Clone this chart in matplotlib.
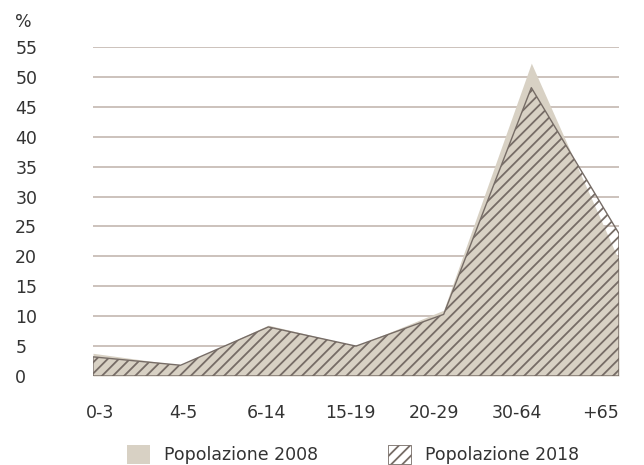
import matplotlib
matplotlib.use("Agg")
import matplotlib.pyplot as plt
from matplotlib.patches import Patch

categories = ["0-3", "4-5", "6-14", "15-19", "20-29", "30-64", "+65"]
pop_2008 = [3.8, 1.8, 8.5, 5.0, 11.0, 52.3, 19.3]
pop_2018 = [3.2, 1.8, 8.2, 5.0, 10.3, 48.2, 23.8]
y_ticks = [0, 5, 10, 15, 20, 25, 30, 35, 40, 45, 50, 55]

beige = "#d8d1c4"
hatch_col = "#766c66"
grid_col = "#c3b8b0"
text_col = "#333333"

plt.rcParams["font.family"] = ["DejaVu Sans"]
plt.rcParams["hatch.color"] = hatch_col
plt.rcParams["hatch.linewidth"] = 1.3

fig = plt.figure(figsize=(6.44, 4.65), dpi=100)
ax = fig.add_axes([93 / 644, 1 - 376 / 465, (619 - 93) / 644, (376 - 47) / 465])

x = list(range(len(categories)))
ax.fill_between(x, 0, pop_2008, color=beige, linewidth=0, zorder=2)
ax.fill_between(x, 0, pop_2018, facecolor="none", edgecolor=hatch_col,
                hatch="///", linewidth=1.0, zorder=3)

for v in y_ticks[1:]:
    ax.axhline(v, color=grid_col, linewidth=1.2, zorder=1)

ax.set_xlim(0, len(categories) - 1)
ax.set_ylim(0, 55)
# category labels sit a little inside the first and last points
label_pos = [0.08 + i * 0.952 for i in x]
ax.set_xticks(label_pos)
ax.set_xticklabels(categories, fontsize=12.5, color=text_col)
ax.set_yticks(y_ticks)
ax.set_yticklabels([str(v) for v in y_ticks], fontsize=12.5, color=text_col)
for lab in ax.get_yticklabels():
    lab.set_horizontalalignment("left")
ax.tick_params(axis="y", length=0, pad=56)
ax.tick_params(axis="x", length=0, pad=20)
for s in ax.spines.values():
    s.set_visible(False)

fig.text(15 / 644, 1 - 22 / 465, "%", fontsize=12.5, color=text_col, va="center")

handles = [Patch(facecolor=beige, edgecolor="none"),
           Patch(facecolor="white", edgecolor=hatch_col, hatch="///", linewidth=0.6)]
fig.legend(handles, ["Popolazione 2008", "Popolazione 2018"], loc="lower center",
           bbox_to_anchor=(0.548, -0.032), ncol=2, frameon=False, fontsize=12.5,
           handlelength=1.3, handleheight=1.3, columnspacing=4.05, labelcolor=text_col)

fig.savefig("out.png", dpi=100)
